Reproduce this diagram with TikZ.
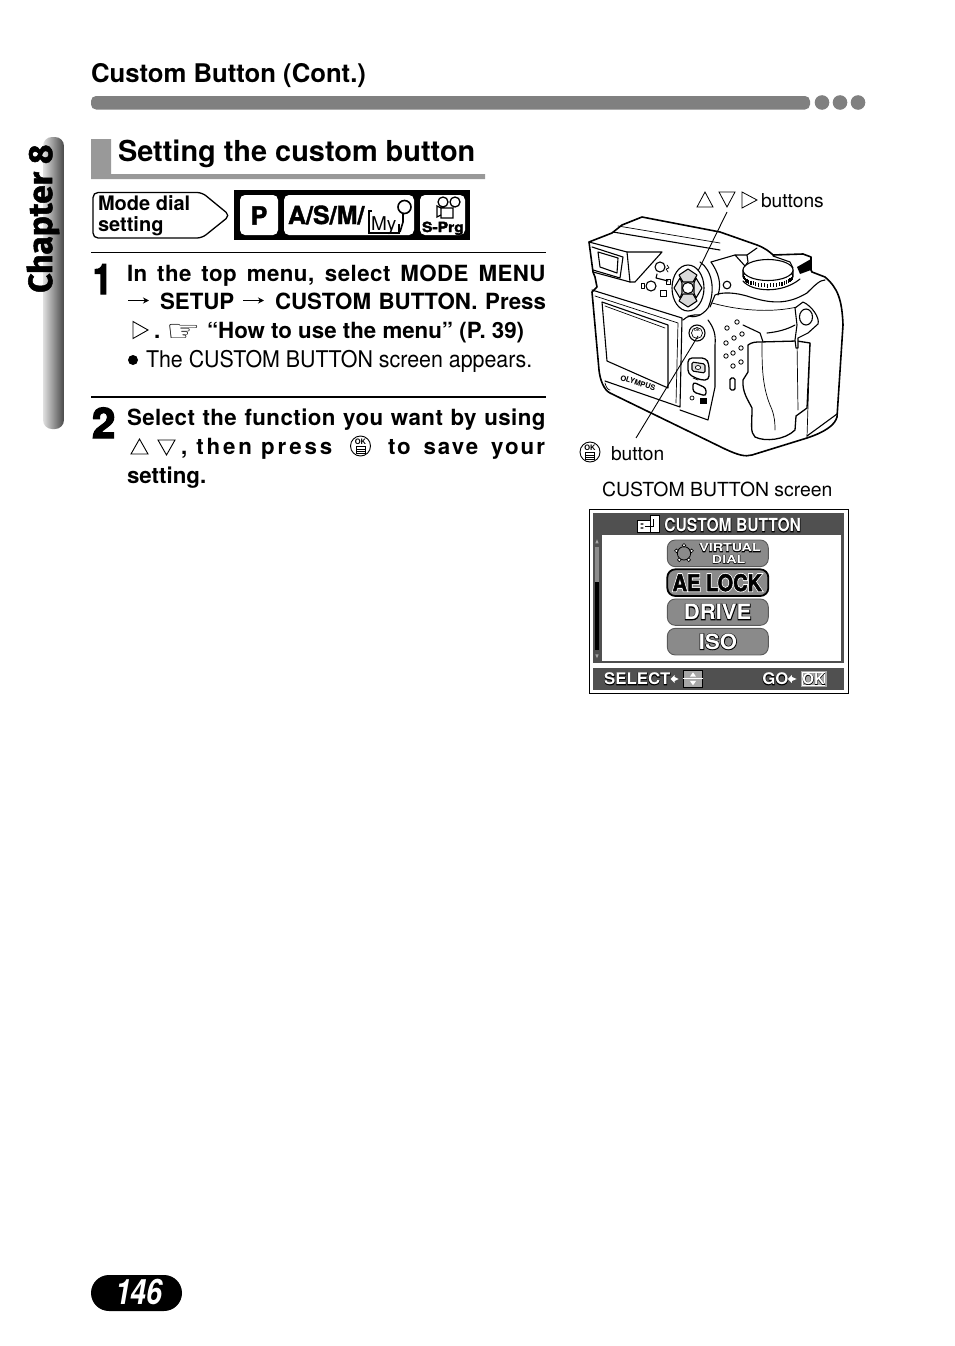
\documentclass[tikz,border=0pt]{standalone}
\usepackage{fontspec}
\usepackage{graphicx}
\usetikzlibrary{arrows.meta,calc}
\setmainfont{TeX Gyre Heros}
\newfontfamily\chapfont{Fira Sans}
\newfontfamily\symfont{DejaVu Sans}
\newcommand{\fs}[1]{\fontsize{#1}{#1}\selectfont}
\newcommand{\ls}[1]{\addfontfeature{LetterSpace=#1}}
\newcommand{\outl}[2]{\special{pdf:code q #1 w 2 Tr 0 G}#2\special{pdf:code 0 Tr Q}}
\newcommand{\halo}[2]{\leavevmode\rlap{\special{pdf:code q #1 w 2 Tr 0 G 0 g}#2\special{pdf:code 0 Tr Q}}{\color{white}#2}}
\newcommand{\whalo}[2]{\leavevmode\rlap{\special{pdf:code q #1 w 2 Tr 1 G 1 g}#2\special{pdf:code 0 Tr Q}}{\special{pdf:code q 0.5 w 2 Tr 0 G 0 g}#2\special{pdf:code 0 Tr Q}}}
\newcommand{\fit}[2]{\makebox[#1pt][s]{#2}}
\definecolor{bar}{HTML}{808080}
\definecolor{sect}{HTML}{999999}
\definecolor{scr}{HTML}{505050}
\definecolor{btn}{HTML}{8A8A8A}
\tikzset{
 tx/.style={anchor=base west,inner sep=0pt,outer sep=0pt},
 ctx/.style={anchor=center,inner sep=0pt,outer sep=0pt},
 sym/.style={draw=black,line width=0.9pt,line join=miter,fill=white},
 cam/.style={draw=black,line width=1.1pt,line join=round,line cap=round},
 camthin/.style={draw=black,line width=0.7pt,line join=round,line cap=round},
 whitebox/.style={fill=white,rounded corners=5pt},
 menubtn/.style={fill=btn,draw=black!65,line width=0.9pt,rounded corners=8pt},
 leader/.style={draw=black,line width=0.9pt}
}
\newcommand{\tup}[2]{\draw[sym] (#1,#2) -- ++(-8.5,15) -- ++(17,0) -- cycle;}
\newcommand{\tdn}[2]{\draw[sym] (#1,#2) -- ++(-8.5,-15) -- ++(17,0) -- cycle;}
\newcommand{\trt}[2]{\draw[sym] (#1,#2) -- ++(-15,-8.5) -- ++(0,17) -- cycle;}
\newcommand{\okicon}[3]{%
 \draw[black,line width=0.9pt,fill=white] (#1,#2) circle (10);
 \node[ctx] (#3) at (#1,#2-4.3) {\fs{7.5}\textbf{OK}};
 \draw[black,line width=0.8pt] (#1-4.5,#2+0.5) rectangle (#1+4.5,#2+7);
 \draw[black,line width=0.6pt] (#1-4.5,#2+2.8) -- (#1+4.5,#2+2.8) (#1-4.5,#2+5) -- (#1+4.5,#2+5);}
\begin{document}
\begin{tikzpicture}[x=1pt,y=-1pt]
\useasboundingbox[fill=white] (0,0) rectangle (954,1346);

% header
\node[tx] (hdr) at (91,82) {\fs{25.7}\textbf{Custom Button (Cont.)}};
\fill[bar,rounded corners=5pt] (91,96) rectangle (810,109.5);
\fill[bar] (822,102.5) circle (7.3) (840,102.5) circle (7.3) (858,102.5) circle (7.3);

% chapter tab
\shade[left color=black!12,right color=black!72,middle color=black!42,rounded corners=9pt] (43,137) rectangle (64,429);
\node[anchor=base west,inner sep=0pt,rotate=90] (chap) at (52,293) {\chapfont\fs{33.5}\outl{0.5}{\textbf{Chapter 8}}};

% section heading
\fill[sect] (91,139) rectangle (111,179) (91,174) rectangle (485,179);
\node[tx] (sec) at (118,161) {\fs{28.9}\textbf{Setting the custom button}};

% mode dial
\draw[black,line width=1.3pt,rounded corners=5pt,fill=white] (93,192.5) -- (202,192.5) -- (230,215.5) -- (202,238) -- (93,238) -- cycle;
\node[tx] (md1) at (98,210) {\fs{20}\textbf{Mode dial}};
\node[tx] (md2) at (98,231) {\fs{20}\textbf{setting}};
\fill[black] (234,190) rectangle (470,240);
\fill[whitebox] (240,195) rectangle (278,235);
\fill[whitebox] (284,195) rectangle (414,235);
\fill[whitebox] (420,195) rectangle (465,235);
\node[ctx] (mp) at (259,215.5) {\fs{25}\outl{0.4}{\textbf{P}}};
\node[tx] (masm) at (288,224) {\fs{25}\outl{0.4}{\textbf{A/S/M/}}};
\draw[black,line width=1.1pt] (372,211) -- (369,211) -- (369,233) -- (399,233) -- (399,224);
\node[tx] (mmy) at (371,230) {\fs{19}My};
\draw[black,line width=1.6pt] (404.5,207) circle (6.5);
\draw[black,line width=1.6pt] (403,213.5) -- (403,222) -- (400,232);
\node[tx] (msp) at (422,232) {\fs{14}\scalebox{1.12}[1]{\outl{0.3}{\textbf{S-Prg}}}};
\draw[black,line width=1.3pt] (443,202) circle (5) (455,202) circle (5) (441,208) rectangle (453,218);
\draw[black,line width=1.3pt] (441,208) -- (437,206) -- (437,217) -- (441,215);

% rules
\draw[black,line width=0.9pt] (91,252.5) -- (546,252.5);
\draw[black,line width=1.6pt] (91,397) -- (546,397);

% step 1
\node[tx] (n1) at (93,294) {\fs{42}\scalebox{0.8}[1]{\outl{1.4}{\textbf{1}}}};
\node[tx] (l1) at (127,281) {\fs{22.3}\fit{419}{\ls{2}\textbf{In the top menu, select MODE MENU}}};
\draw[black,line width=1.1pt,-{Stealth[length=6pt,width=6pt]}] (128,300.5) -- (149,300.5);
\node[tx] (l2a) at (160,309) {\fs{22.3}\textbf{SETUP}};
\draw[black,line width=1.1pt,-{Stealth[length=6pt,width=6pt]}] (243,300.5) -- (264,300.5);
\node[tx] (l2b) at (275,309) {\fs{22.3}\fit{271}{\textbf{CUSTOM BUTTON. Press}}};
\trt{148}{330}
\node[tx] (l3a) at (154,338) {\fs{22.3}\textbf{.}};
\node[tx] (hand) at (166,341) {\symfont\fs{24}\scalebox{1.6}[1.25]{☞}};
\node[tx] (l3b) at (207,338) {\fs{22.3}\textbf{“How to use the menu” (P. 39)}};
\fill[black] (133,360) circle (5);
\node[tx] (l4) at (146,367) {\fs{23}\scalebox{0.93}[1]{The CUSTOM BUTTON screen appears.}};

% step 2
\node[tx] (n2) at (92,438) {\fs{42}\outl{1.4}{\textbf{2}}};
\node[tx] (l5) at (127,425) {\fs{22.3}\fit{419}{\ls{2}\textbf{Select the function you want by using}}};
\tup{139.5}{439}
\tdn{166.5}{455}
\node[tx] (l6a) at (181,454) {\fs{22.3}\ls{13}\textbf{, then press}};
\okicon{360.5}{446}{okb}
\node[tx] (l6b) at (388,454) {\fs{22.3}\fit{159}{\ls{9}\textbf{to save your}}};
\node[tx] (l7) at (127,483) {\fs{22.3}\textbf{setting.}};

% camera (absolute pixel coordinates)
\draw[cam,line width=1.6pt,fill=white] (589,242) -- (612,233) -- (622,225) -- (642,217) -- (720,232) -- (757,245) .. controls (765,248) and (770,252) .. (773,255) -- (803,254) -- (811,257) -- (811,270) -- (812,272) -- (825,277) .. controls (838,288) and (842,300) .. (843,325) -- (837,417) .. controls (835,425) and (825,432) .. (807,438) -- (752,455) .. controls (745,457) and (738,455) .. (725,449) -- (610,393) .. controls (604,390) and (600,380) .. (599,370) -- (592,292) -- (597,287) -- (595,277) -- (593,272) -- cycle;
% viewfinder
\draw[cam] (589,242) -- (627,252) -- (630,282) -- (593,272);
\draw[cam] (592,247) -- (623,257) -- (620,278) -- (593,270);
\draw[cam] (598,252) -- (618,258) -- (617,273) -- (600,267) -- cycle;
\draw[cam] (627,252) -- (662,252) -- (635,282) -- (630,282);
% top ridge
\draw[cam] (613,232) -- (720,250);
\draw[camthin] (618,226) -- (720,243);
% lcd panel
\draw[cam] (592,290) -- (682,318) -- (680,407) -- (605,381);
\draw[camthin] (595,296) -- (678,323) -- (676,403);
\draw[cam] (602,302) -- (668,325) -- (668,388) -- (607,361) -- cycle;
\draw[camthin] (605,306) -- (665,328);
\node[ctx,rotate=-18] (oly) at (638,383) {\fs{7.5}\textbf{OLYMPUS}};
\draw[camthin] (605,383) .. controls (606,387) and (608,390) .. (610,390);
% dial
\draw[cam,fill=white] (743,270) -- (743,277) arc[start angle=180,end angle=360,x radius=25,y radius=10.5] -- (793,270);
\foreach \a in {185,192,...,355} {\draw[black,line width=1.2pt] ({768+25*cos(\a)},{273-10.5*sin(\a)}) -- ({768+25*cos(\a)},{277-10.5*sin(\a)});}
\draw[cam,fill=white] (768,270) ellipse (25 and 10.5);
\draw[cam,fill=white] (735,255) -- (747,255) -- (748,262) -- (745,266) -- cycle;
\draw[cam] (735,255) -- (711,262);
\draw[cam] (747,255) -- (757,248);
\draw[cam] (773,256) -- (790,262) -- (793,268);
\fill[black] (797,267) -- (811,259) -- (811,270) -- (800,274) -- cycle;
\draw[cam] (743,281) .. controls (752,292) and (782,294) .. (800,279);
% base curves
\draw[cam] (710,307) -- (715,295) .. controls (722,292) and (735,292) .. (750,297) .. controls (775,305) and (790,303) .. (807,293) .. controls (815,285) and (820,280) .. (825,280);
\draw[camthin] (712,303) .. controls (745,312) and (775,312) .. (797,307);
\draw[cam] (727,285) circle (3.8);
\draw[cam] (711,262) .. controls (718,272) and (722,283) .. (718,295);
% pad
\draw[cam] (700,262) .. controls (712,270) and (716,290) .. (708,308) .. controls (702,316) and (694,318) .. (688,316);
\draw[cam,fill=white] (688,288) ellipse (16 and 23);
\draw[cam,fill=black!15] (688,269) -- (697,275) -- (693,282) -- (683,282) -- (679,275) -- cycle;
\draw[cam,fill=black!15] (688,307) -- (697,301) -- (693,294) -- (683,294) -- (679,301) -- cycle;
\draw[cam,fill=black!8] (674,288) -- (680,278) -- (682,283) -- (682,293) -- (680,298) -- cycle;
\draw[cam,fill=black!8] (702,288) -- (696,278) -- (694,283) -- (694,293) -- (696,298) -- cycle;
\draw[cam,fill=white] (688,288) circle (5.6);
% small buttons
\draw[cam,fill=white] (660,267) circle (5);
\draw[cam,fill=white] (651,286) circle (5);
\draw[cam] (657,274) -- (656,278) -- (668,281);
\draw[camthin] (667,265) -- (669,268) -- (666,269) -- (668,272);
\draw[camthin] (666,279) rectangle (670,284) (641,283) rectangle (644,288) (660,290) rectangle (666,296);
% column
\draw[cam] (708,320) .. controls (714,328) and (716,335) .. (715,345) -- (715,387) -- (708,420) -- (680,410);
\draw[cam] (683,320) .. controls (687,316) and (694,314) .. (700,315);
\draw[cam,fill=white] (697,333) circle (8);
\draw[camthin] (697,333) circle (5.5);
\node[ctx] (camok) at (697,330.5) {\fs{3.8}\textbf{OK}};
\draw[cam,line width=1.3pt,rounded corners=4pt] (688,358) -- (706,358) -- (709,364) -- (709,380) -- (700,380) -- (688,374) -- cycle;
\draw[cam,fill=black!12,rounded corners=1.5pt] (692,362) -- (705,364) -- (705,373) -- (692,371) -- cycle;
\draw[camthin,fill=white] (698,367.5) ellipse (2.7 and 2);
\draw[cam,line width=1.3pt,rounded corners=3pt] (693,382) -- (706,388) -- (706,396) -- (693,392) -- cycle;
\draw[camthin] (692,398) circle (2);
\fill[black] (700,398) rectangle (707,404);
\draw[camthin] (693,378) -- (698,380);
% holes
\foreach \p in {(737,322),(727,328),(742,334),(734,338),(726,343),(741,348),(733,353),(726,356),(741,362),(733,366)} {\draw[black,line width=0.8pt] \p circle (2.2);}
\draw[cam,line width=1.4pt,rounded corners=1.5pt] (730,378) rectangle (735,390);
\draw[cam] (743,325) -- (760,333) -- (763,342);
\draw[cam] (767,333) .. controls (778,332) and (788,329) .. (795,325);
% grip
\draw[cam,line width=1.3pt] (748,345) .. controls (752,342) and (756,342) .. (760,342) -- (797,341) -- (810,343) -- (807,408) -- (796,416) -- (795,430) .. controls (785,440) and (765,442) .. (755,437) .. controls (750,432) and (752,425) .. (752,408) .. controls (748,400) and (742,392) .. (743,380) -- (748,372) -- cycle;
\draw[camthin] (762,343) .. controls (762,365) and (762,385) .. (770,405) .. controls (775,415) and (775,425) .. (775,430);
\draw[camthin] (797,342) -- (798,410) (807,437) -- (810,343);
\draw[cam] (807,436) -- (837,414);
% strap
\draw[cam,fill=white] (795,308) -- (803,302) .. controls (812,306) and (820,318) .. (818,324) -- (808,333) -- (798,338) -- (798,348) -- (796,348) -- (795,340) -- (797,325) -- cycle;
\draw[cam,fill=white] (806,317) ellipse (6.5 and 8);
% leaders
\coordinate (upend) at (698,271);
\coordinate (uptop) at (727,212);
\coordinate (okend) at (698,336);
\coordinate (okbot) at (636,438);
\draw[leader] (uptop) -- (upend);
\draw[leader] (okbot) -- (okend);

% camera labels
\draw[sym,line width=0.8pt] (705,192) -- (697,207) -- (713,207) -- cycle;
\draw[sym,line width=0.8pt] (727,207) -- (719,192) -- (735,192) -- cycle;
\draw[sym,line width=0.8pt] (742,192) -- (742,208) -- (757,200) -- cycle;
\node[tx] (lb1) at (761,207) {\fs{19.2}buttons};
\okicon{590}{452}{okl}
\node[tx] (lb2) at (611,460) {\fs{19.2}button};
\node[tx] (lb3) at (602,496) {\fs{19.4}CUSTOM BUTTON screen};

% screen
\begin{scope}[shift={(580,500)},x=0.3333pt,y=-0.3333pt]
\draw[black,line width=1.5pt,fill=white] (28,28) rectangle (805,580);
\fill[scr] (38,40) rectangle (792,490);
\fill[white] (65,105) rectangle (783,483);
\fill[scr] (38,505) rectangle (792,570);
\node[ctx] (st) at (458,76) {\fs{18}\scalebox{0.87}[1]{\halo{0.9}{\textbf{CUSTOM BUTTON}}}};
\draw[black,line width=0.8pt,fill=white] (172,62) rectangle (210,97);
\draw[black,line width=0.8pt,fill=white] (210,45) -- (238,45) -- (238,97) -- (210,97) -- cycle;
\draw[black,line width=1pt] (195,78) -- (220,78) -- (220,58);
\fill[black] (182,70) rectangle (190,74) (182,82) rectangle (190,86);
% scrollbar
\fill[black] (45,140) rectangle (57,450);
\fill[black!45] (45,140) rectangle (57,245);
\fill[black!35] (51,118) -- (46,130) -- (56,130) -- cycle (51,475) -- (46,463) -- (56,463) -- cycle;
% buttons
\draw[menubtn] (262,120) rectangle (565,200);
\draw[menubtn,draw=black,line width=1.8pt] (262,208) rectangle (565,288);
\draw[menubtn] (262,297) rectangle (565,376);
\draw[menubtn] (262,385) rectangle (565,465);
\node[ctx] (b1a) at (450,144) {\fs{11}\scalebox{1.3}[1]{\halo{0.7}{\textbf{VIRTUAL}}}};
\node[ctx] (b1b) at (446,178) {\fs{11}\scalebox{1.3}[1]{\halo{0.7}{\textbf{DIAL}}}};
\draw[black,line width=0.8pt] (312,160) circle (20);
\foreach \a in {90,162,234,306,18} {\draw[black,line width=0.6pt,fill=white] ({312+24*cos(\a)},{160-24*sin(\a)}) circle (5.5);}
\node[ctx] (b2) at (412,248) {\fs{23}\scalebox{0.87}[1]{\whalo{2.2}{\textbf{AE LOCK}}}};
\node[ctx] (b3) at (413,336) {\fs{21}\scalebox{1.05}[1]{\halo{1.4}{\textbf{DRIVE}}}};
\node[ctx] (b4) at (414,425) {\fs{21}\scalebox{1.05}[1]{\halo{1.4}{\textbf{ISO}}}};
% footer
\node[ctx] (sel) at (172,537) {\fs{16}\scalebox{1.05}[1]{\halo{0.9}{\textbf{SELECT}}}};
\fill[white] (272,537) -- (284,525) -- (284,531) -- (296,537) -- (284,543) -- (284,549) -- cycle;
\draw[black,line width=0.5pt,fill=black!35] (310,511) rectangle (368,562);
\draw[white,line width=1pt] (310,536) -- (368,536);
\fill[white] (339,517) -- (330,530) -- (348,530) -- cycle (339,556) -- (330,543) -- (348,543) -- cycle;
\node[ctx] (go) at (586,537) {\fs{16}\scalebox{1.05}[1]{\halo{0.9}{\textbf{GO}}}};
\fill[white] (624,537) -- (636,525) -- (636,531) -- (650,537) -- (636,543) -- (636,549) -- cycle;
\fill[black!35] (662,512) rectangle (740,562);
\draw[white,line width=1pt] (668,518) rectangle (734,556);
\node[ctx] (okt) at (701,537) {\fs{15}\halo{0.6}{\textbf{OK}}};
\end{scope}

% page number
\fill[black,rounded corners=18pt] (91,1275) rectangle (182,1311);
\node[tx] (pg) at (115,1304) {\fs{35}\scalebox{0.82}[1]{\color{white}\textbf{\textit{146}}}};
\end{tikzpicture}
\end{document}
